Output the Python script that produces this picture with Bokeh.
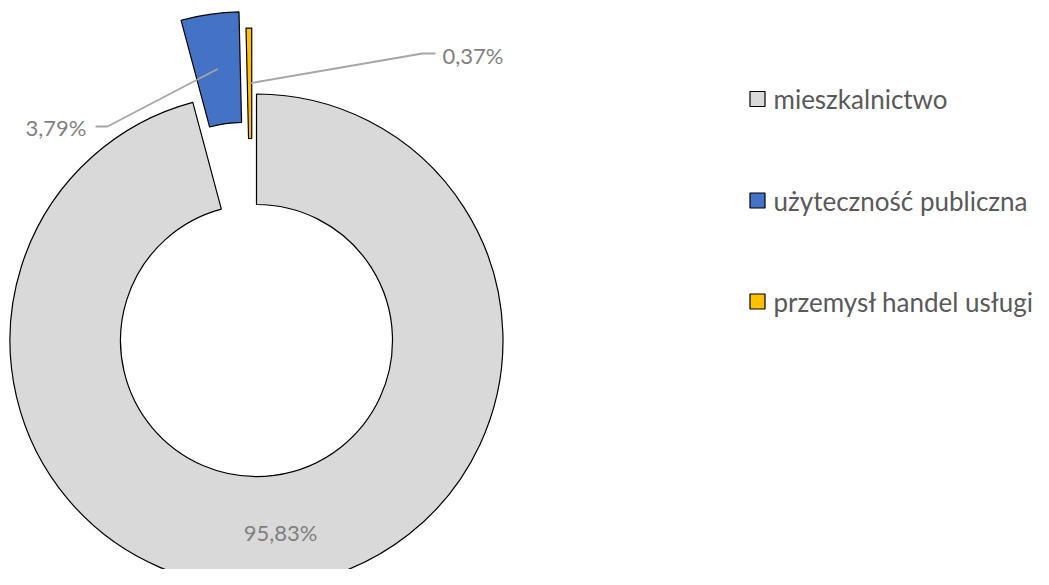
import numpy as np
from bokeh.plotting import figure
from bokeh.models import Range1d
from bokeh.core.properties import value
from bokeh.embed import file_html
from bokeh.resources import INLINE

# ---- data ----
categories = ["mieszkalnictwo", "użyteczność publiczna", "przemysł handel usługi"]
shares = [95.83, 3.79, 0.37]
labels = ["95,83%", "3,79%", "0,37%"]
colors = ["#D9D9D9", "#4472C4", "#FFC000"]
explode = [0, 83, 66]  # px offset of each slice along its bisector
nudge_x = [0, 0, -4]   # small extra sideways shift (px)

# ---- layout (data units == reference pixels, y flipped) ----
W, H = 1033, 569
CX, CY = 256, 245
R_OUT, R_IN = 246.5, 136
FONT = "Lato"

vals = np.array(shares, dtype=float)
frac = vals / vals.sum()
cum_end = np.cumsum(frac) * 2 * np.pi
cum_start = cum_end - frac * 2 * np.pi
mid = (cum_start + cum_end) / 2  # clockwise from 12 o'clock
ex = np.array(explode, dtype=float)
xs = CX + ex * np.sin(mid) + np.array(nudge_x, dtype=float)
ys = CY + ex * np.cos(mid)

p = figure(width=W, height=H, output_backend="svg", toolbar_location=None,
           x_range=Range1d(0, W), y_range=Range1d(585 - H, 585),
           min_border=0)
p.axis.visible = False
p.grid.visible = False
p.outline_line_color = None
p.background_fill_color = "white"

p.annular_wedge(x=xs, y=ys, inner_radius=R_IN, outer_radius=R_OUT,
                start_angle=np.pi / 2 - cum_start, end_angle=np.pi / 2 - cum_end,
                direction="clock", fill_color=colors, line_color="black", line_width=1.2)

# anchors at mid-ring of exploded slices
r_mid = (R_IN + R_OUT) / 2
ax = xs + r_mid * np.sin(mid)
ay = ys + r_mid * np.cos(mid)

lab_color = "#7F7F7F"
lead_color = "#A6A6A6"
# 3,79% leader (to the left)
p.line(x=[ax[1], 107, 95], y=[ay[1], 459, 459], line_color=lead_color, line_width=1.8)
# 0,37% leader (to the right)
p.line(x=[ax[2], 422, 435], y=[ay[2], 532, 532], line_color=lead_color, line_width=1.8)

p.text(x=[280], y=[53], text=[labels[0]], text_align="center", text_baseline="middle",
       text_font=value(FONT), text_font_size="22px", text_color=lab_color)
p.text(x=[86], y=[458], text=[labels[1]], text_align="right", text_baseline="middle",
       text_font=value(FONT), text_font_size="22px", text_color=lab_color)
p.text(x=[442], y=[530], text=[labels[2]], text_align="left", text_baseline="middle",
       text_font=value(FONT), text_font_size="22px", text_color=lab_color)

# legend
leg_y = [486.5, 385, 284]
p.rect(x=[757] * 3, y=leg_y, width=15, height=15, fill_color=colors,
       line_color="black", line_width=1.2)
p.text(x=[773] * 3, y=leg_y, text=categories, text_align="left", text_baseline="middle",
       text_font=value(FONT), text_font_size="26px", text_color="#595959")

open("out.html", "w").write(file_html(p, INLINE))
